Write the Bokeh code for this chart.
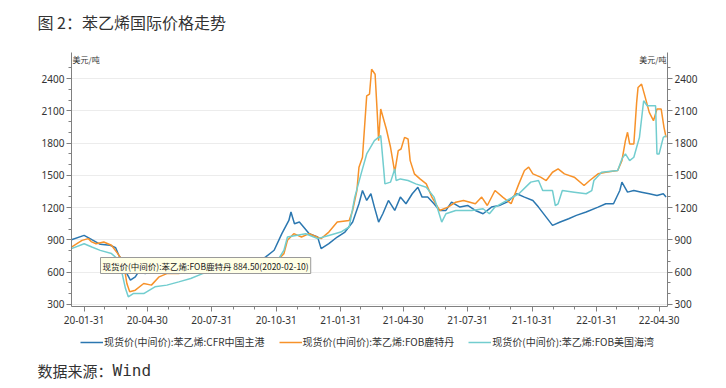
import pandas as pd
from bokeh.plotting import figure
from bokeh.layouts import column
from bokeh.models import (FixedTicker, DatetimeTickFormatter, LinearAxis, Range1d,
                          Label, Legend, LegendItem)
from bokeh.embed import file_html
from bokeh.resources import INLINE

TITLE = "图 2：苯乙烯国际价格走势"
SOURCE_CN = "数据来源："
SOURCE_EN = "Wind"
UNIT = "美元/吨"
NAMES = ["现货价(中间价):苯乙烯:CFR中国主港",
         "现货价(中间价):苯乙烯:FOB鹿特丹",
         "现货价(中间价):苯乙烯:FOB美国海湾"]
TOOLTIP = "现货价(中间价):苯乙烯:FOB鹿特丹 884.50(2020-02-10)"

TICK_DATES = ["2020-01-31", "2020-04-30", "2020-07-31", "2020-10-31", "2021-01-31",
              "2021-04-30", "2021-07-31", "2021-10-31", "2022-01-31", "2022-04-30"]
Y_TICKS = [300, 600, 900, 1200, 1500, 1800, 2100, 2400]

CFR_DATES = ["2020-01-13", "2020-01-31", "2020-02-11", "2020-02-23", "2020-03-08", "2020-03-16",
             "2020-03-21", "2020-03-27", "2020-04-01", "2020-04-06", "2020-04-13", "2020-04-19",
             "2020-04-27", "2020-05-09", "2020-05-23", "2020-06-14", "2020-07-07", "2020-08-10",
             "2020-09-07", "2020-10-05", "2020-10-16", "2020-10-28", "2020-11-08", "2020-11-18",
             "2020-11-21", "2020-11-26", "2020-12-03", "2020-12-09", "2020-12-17", "2020-12-29",
             "2021-01-03", "2021-01-14", "2021-01-26", "2021-02-06", "2021-02-17", "2021-02-26",
             "2021-03-03", "2021-03-09", "2021-03-15", "2021-03-20", "2021-03-26", "2021-04-01",
             "2021-04-09", "2021-04-18", "2021-04-26", "2021-05-04", "2021-05-13", "2021-05-21",
             "2021-05-27", "2021-06-04", "2021-06-13", "2021-06-21", "2021-06-30", "2021-07-08",
             "2021-07-20", "2021-07-31", "2021-08-11", "2021-08-22", "2021-09-03", "2021-09-14",
             "2021-09-25", "2021-10-09", "2021-10-20", "2021-11-01", "2021-11-09", "2021-11-20",
             "2021-11-29", "2021-12-10", "2021-12-22", "2022-01-02", "2022-01-16", "2022-02-02",
             "2022-02-13", "2022-02-24", "2022-03-05", "2022-03-08", "2022-03-16", "2022-03-25",
             "2022-04-05", "2022-04-16", "2022-04-27", "2022-05-06", "2022-05-10"]
CFR_VALUES = [902, 942, 902, 859, 850, 828,
              748, 711, 587, 526, 557, 618,
              587, 618, 649, 618, 649, 649,
              680, 686, 742, 804, 958, 1081,
              1159, 1051, 1066, 1020, 958, 927,
              819, 865, 927, 973, 1066, 1236,
              1359, 1267, 1329, 1205, 1066, 1143,
              1267, 1174, 1298, 1236, 1329, 1390,
              1298, 1298, 1236, 1174, 1174, 1251,
              1205, 1220, 1174, 1143, 1205, 1220,
              1251, 1329, 1298, 1267, 1205, 1112,
              1035, 1066, 1097, 1128, 1159, 1205,
              1236, 1236, 1359, 1437, 1344, 1359,
              1344, 1329, 1313, 1329, 1298]

RTM_DATES = ["2020-01-13", "2020-01-28", "2020-02-06", "2020-02-10", "2020-02-17", "2020-02-28",
             "2020-03-10", "2020-03-19", "2020-03-27", "2020-04-01", "2020-04-05", "2020-04-13",
             "2020-04-25", "2020-05-06", "2020-05-17", "2020-05-28", "2020-06-14", "2020-07-01",
             "2020-07-29", "2020-09-07", "2020-10-16", "2020-10-30", "2020-11-11", "2020-11-16",
             "2020-11-25", "2020-12-06", "2020-12-17", "2021-01-03", "2021-01-14", "2021-01-26",
             "2021-02-12", "2021-02-17", "2021-02-23", "2021-02-26", "2021-03-03", "2021-03-09",
             "2021-03-13", "2021-03-16", "2021-03-21", "2021-03-24", "2021-03-26", "2021-03-29",
             "2021-04-06", "2021-04-12", "2021-04-18", "2021-04-23", "2021-04-27", "2021-05-02",
             "2021-05-07", "2021-05-10", "2021-05-16", "2021-05-24", "2021-06-02", "2021-06-10",
             "2021-06-21", "2021-07-03", "2021-07-14", "2021-07-25", "2021-08-11", "2021-08-20",
             "2021-08-28", "2021-09-08", "2021-09-19", "2021-10-01", "2021-10-12", "2021-10-20",
             "2021-10-26", "2021-11-01", "2021-11-12", "2021-11-20", "2021-11-29", "2021-12-07",
             "2021-12-16", "2021-12-30", "2022-01-13", "2022-01-21", "2022-02-02", "2022-02-13",
             "2022-03-02", "2022-03-08", "2022-03-13", "2022-03-16", "2022-03-19", "2022-03-25",
             "2022-03-29", "2022-03-31", "2022-04-05", "2022-04-09", "2022-04-16", "2022-04-22",
             "2022-04-27", "2022-05-03", "2022-05-07", "2022-05-10"]
RTM_VALUES = [834, 896, 912, 884.5, 865, 881,
              850, 773, 695, 495, 418, 433,
              495, 480, 557, 587, 587, 618,
              649, 665, 680, 695, 773, 896,
              958, 927, 958, 912, 973, 1066,
              1081, 1174, 1359, 1576, 1668, 2239,
              2255, 2486, 2440, 2085, 1823, 2116,
              1931, 1761, 1529, 1730, 1745, 1853,
              1838, 1637, 1514, 1467, 1421, 1298,
              1174, 1205, 1251, 1267, 1236, 1298,
              1220, 1359, 1298, 1236, 1421, 1545,
              1576, 1514, 1483, 1452, 1529, 1560,
              1514, 1483, 1406, 1452, 1514, 1529,
              1545, 1637, 1823, 1900, 1792, 1792,
              2178, 2317, 2348, 2255, 2085, 2008,
              2116, 2116, 1946, 1853]

USG_DATES = ["2020-01-13", "2020-01-31", "2020-02-11", "2020-02-23", "2020-03-10", "2020-03-21",
             "2020-03-30", "2020-04-03", "2020-04-10", "2020-04-25", "2020-05-11", "2020-05-28",
             "2020-06-14", "2020-07-01", "2020-07-18", "2020-08-10", "2020-09-12", "2020-10-16",
             "2020-11-02", "2020-11-11", "2020-11-16", "2020-11-28", "2020-12-12", "2020-12-29",
             "2021-01-14", "2021-01-31", "2021-02-12", "2021-02-20", "2021-03-01", "2021-03-09",
             "2021-03-20", "2021-03-29", "2021-04-02", "2021-04-04", "2021-04-12", "2021-04-18",
             "2021-04-20", "2021-04-26", "2021-05-07", "2021-05-18", "2021-06-02", "2021-06-13",
             "2021-06-24", "2021-06-30", "2021-07-14", "2021-08-06", "2021-08-22", "2021-08-31",
             "2021-09-08", "2021-09-25", "2021-10-12", "2021-10-29", "2021-11-09", "2021-11-15",
             "2021-11-29", "2021-12-03", "2021-12-07", "2021-12-13", "2021-12-30", "2022-01-16",
             "2022-01-24", "2022-01-27", "2022-02-07", "2022-03-02", "2022-03-08", "2022-03-13",
             "2022-03-19", "2022-03-25", "2022-03-29", "2022-04-02", "2022-04-08", "2022-04-13",
             "2022-04-25", "2022-04-27", "2022-04-30", "2022-05-06", "2022-05-10"]
USG_VALUES = [819, 865, 834, 803, 773, 711,
              448, 371, 402, 402, 464, 480,
              510, 541, 587, 618, 649, 680,
              711, 804, 927, 942, 958, 912,
              942, 973, 1020, 1298, 1514, 1699,
              1823, 1869, 1576, 1421, 1437, 1560,
              1452, 1467, 1452, 1421, 1390, 1298,
              1066, 1143, 1174, 1174, 1190, 1143,
              1205, 1267, 1329, 1437, 1452, 1359,
              1359, 1220, 1236, 1359, 1344, 1329,
              1359, 1452, 1529, 1545, 1653, 1699,
              1637, 1668, 1761, 1853, 2193, 2147,
              2147, 1699, 1699, 1853, 1869]

COLORS = ["#2B77B0", "#F7922A", "#72CDCF"]
FONT = "Noto Sans CJK SC"
TXT = "#333333"
AX = "#808080"


def ms(d):
    return pd.Timestamp(d).value / 1e6


def strip(height):
    f = figure(width=718, height=height, x_range=Range1d(0, 1), y_range=Range1d(0, 1),
               output_backend="svg", toolbar_location=None,
               x_axis_location=None, y_axis_location=None, min_border=0)
    f.outline_line_color = None
    f.grid.visible = False
    f.frame_align = False
    return f


series = [(CFR_DATES, CFR_VALUES), (RTM_DATES, RTM_VALUES), (USG_DATES, USG_VALUES)]

# ---------------- title strip ----------------
T = strip(40)
T.add_layout(Label(x=37, y=18.5, x_units="screen", y_units="screen", text=TITLE,
                   text_font=FONT, text_font_size="16px", text_color="#333333",
                   text_baseline="middle", text_align="left"))

# ---------------- main chart ----------------
p = figure(width=718, height=290, x_axis_type="datetime",
           x_range=Range1d(ms("2020-01-13"), ms("2022-05-12")),
           y_range=Range1d(281.4, 2641.6),
           output_backend="svg", toolbar_location=None,
           min_border_left=71, min_border_right=51, min_border_top=12, min_border_bottom=24)
p.frame_align = False
p.outline_line_color = None
p.background_fill_color = "white"
p.xgrid.visible = False
p.ygrid.grid_line_color = "#ECECEC"
p.ygrid.ticker = FixedTicker(ticks=Y_TICKS)

for (ds, vs), c in zip(series, COLORS):
    p.line(pd.to_datetime(ds), vs, line_color=c, line_width=1.5)

p.add_layout(LinearAxis(), "right")

minor_x = [ms(d) for d in pd.date_range("2020-01-31", "2022-04-30", freq="ME")]
for ax in p.xaxis:
    ax.ticker = FixedTicker(ticks=[ms(d) for d in TICK_DATES], minor_ticks=minor_x)
    ax.formatter = DatetimeTickFormatter(days="%y-%m-%d", months="%y-%m-%d", years="%y-%m-%d",
                                         strip_leading_zeros=False)
    ax.major_label_standoff = 4

for ax in p.yaxis:
    ax.ticker = FixedTicker(ticks=Y_TICKS, minor_ticks=list(range(300, 2600, 100)))
    ax.major_label_standoff = 2

for ax in p.xaxis + p.yaxis:
    ax.axis_line_color = AX
    ax.major_tick_line_color = AX
    ax.minor_tick_line_color = AX
    ax.major_tick_out = 5
    ax.major_tick_in = 0
    ax.minor_tick_out = 3
    ax.minor_tick_in = 0
    ax.major_label_text_font = "Noto Sans"
    ax.major_label_text_font_size = "10px"
    ax.major_label_text_color = TXT

p.add_layout(Label(x=1, y=253, x_units="screen", y_units="screen", text=UNIT,
                   text_font=FONT, text_font_size="8px", text_color=TXT,
                   text_baseline="top", text_align="left"))
p.add_layout(Label(x=595, y=253, x_units="screen", y_units="screen", text=UNIT,
                   text_font=FONT, text_font_size="8px", text_color=TXT,
                   text_baseline="top", text_align="right"))
p.add_layout(Label(x=29, y=41, x_units="screen", y_units="screen", text=TOOLTIP,
                   text_font=FONT, text_font_size="8.5px", text_color="#222222",
                   text_baseline="middle", text_align="left", padding=2,
                   background_fill_color="#FFFFE6", border_line_color="#9A9A9A"))

# ---------------- legend + source strip ----------------
L = strip(52)
# same series drawn here only to carry the legend glyphs (they fall outside this strip's range)
leg_renderers = [L.line(pd.to_datetime(ds), vs, line_color=c, line_width=1.5)
                 for (ds, vs), c in zip(series, COLORS)]
legend = Legend(items=[LegendItem(label=n, renderers=[r]) for n, r in zip(NAMES, leg_renderers)],
                location=(80, 33), orientation="horizontal",
                label_text_font=FONT, label_text_font_size="10px", label_text_color=TXT,
                glyph_width=23, glyph_height=12, label_height=12, label_standoff=1,
                spacing=14, padding=0, margin=0,
                border_line_color=None, background_fill_alpha=0)
L.add_layout(legend)
L.add_layout(Label(x=37, y=12, x_units="screen", y_units="screen", text=SOURCE_CN,
                   text_font=FONT, text_font_size="15px", text_color="#333333",
                   text_baseline="middle", text_align="left"))
L.add_layout(Label(x=112, y=12, x_units="screen", y_units="screen", text=SOURCE_EN,
                   text_font="DejaVu Sans Mono", text_font_size="16px", text_color="#333333",
                   text_baseline="middle", text_align="left"))

open("out.html", "w").write(file_html(column(T, p, L), INLINE))
